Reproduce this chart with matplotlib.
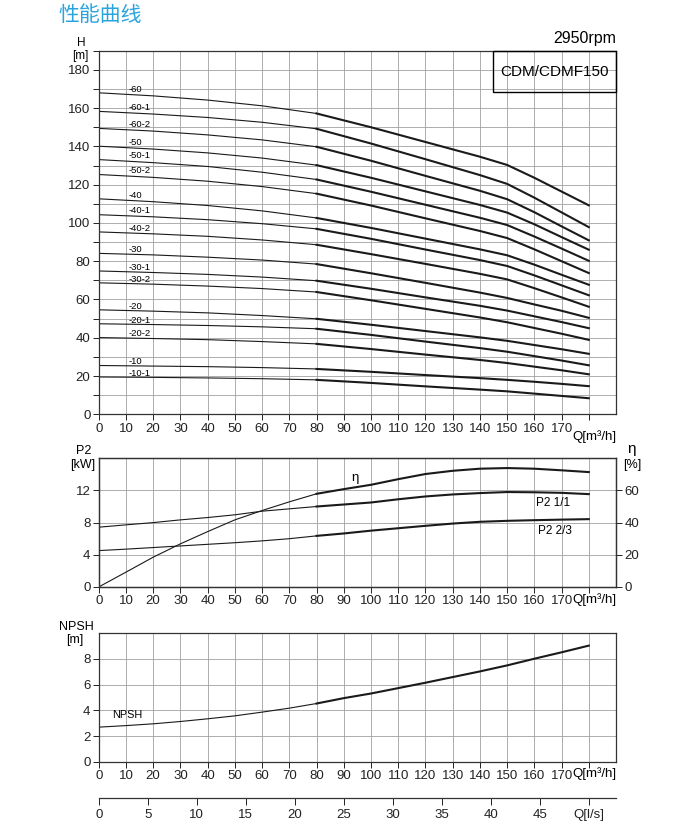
import matplotlib.pyplot as plt
from matplotlib.ticker import MultipleLocator
from matplotlib.patches import Rectangle

plt.rcParams['font.family'] = ['Liberation Sans', 'Noto Sans CJK SC', 'DejaVu Sans']

# ---- data ----
q_head = [0, 20, 40, 60, 80, 100, 120, 140, 150, 160, 170, 180]
stage_labels = ['-60', '-60-1', '-60-2', '-50', '-50-1', '-50-2',
                '-40', '-40-1', '-40-2', '-30', '-30-1', '-30-2',
                '-20', '-20-1', '-20-2', '-10', '-10-1']
heads = [
    [168.0, 166.4, 164.2, 161.2, 157.2, 150.0, 142.3, 134.6, 130.3, 123.6, 116.4, 109.2],
    [158.3, 156.9, 155.1, 152.6, 149.2, 141.5, 133.3, 125.0, 120.4, 113.2, 105.5, 97.8],
    [149.4, 148.0, 146.0, 143.4, 139.8, 132.5, 124.6, 116.8, 112.4, 105.6, 98.2, 90.9],
    [140.1, 138.6, 136.6, 133.9, 130.2, 123.6, 116.5, 109.4, 105.4, 99.3, 92.6, 86.0],
    [133.1, 131.5, 129.5, 126.5, 122.7, 116.3, 109.5, 102.7, 98.9, 92.9, 86.6, 80.2],
    [125.3, 123.8, 121.8, 119.0, 115.3, 109.1, 102.4, 95.8, 92.1, 86.2, 80.0, 73.8],
    [112.6, 111.1, 109.1, 106.3, 102.6, 97.4, 91.8, 86.2, 83.1, 78.2, 72.9, 67.7],
    [104.3, 103.2, 101.7, 99.6, 96.9, 91.7, 86.1, 80.6, 77.5, 72.6, 67.4, 62.2],
    [95.3, 94.3, 93.0, 91.1, 88.6, 83.7, 78.6, 73.4, 70.5, 65.9, 61.1, 56.2],
    [84.1, 83.3, 82.1, 80.6, 78.5, 73.7, 68.7, 63.6, 60.8, 57.4, 54.1, 50.4],
    [74.9, 74.1, 73.1, 71.7, 69.8, 65.6, 61.1, 56.7, 54.2, 51.2, 48.2, 45.0],
    [68.7, 68.0, 67.0, 65.7, 63.9, 59.6, 55.1, 50.6, 48.1, 45.1, 42.1, 38.9],
    [54.6, 53.9, 53.0, 51.6, 49.9, 46.8, 43.5, 40.2, 38.4, 36.2, 34.0, 31.6],
    [47.3, 46.9, 46.4, 45.7, 44.7, 41.5, 38.0, 34.6, 32.7, 30.4, 28.1, 25.6],
    [40.1, 39.6, 39.0, 38.0, 36.8, 34.1, 31.2, 28.4, 26.8, 24.9, 23.0, 20.9],
    [25.5, 25.2, 24.9, 24.4, 23.7, 22.2, 20.5, 18.9, 18.0, 17.0, 15.9, 14.7],
    [19.5, 19.3, 19.0, 18.6, 18.0, 16.4, 14.6, 12.9, 12.0, 10.8, 9.6, 8.4],
]

q_perf = [0, 10, 20, 30, 40, 50, 60, 70, 80, 90, 100, 110, 120, 130, 140, 150, 160, 170, 180]
p2_full = [7.43, 7.72, 8.0, 8.34, 8.63, 8.97, 9.42, 9.71, 10.0, 10.25, 10.5, 10.9,
           11.25, 11.5, 11.67, 11.8, 11.77, 11.7, 11.54]
p2_two_thirds = [4.52, 4.7, 4.9, 5.1, 5.3, 5.5, 5.73, 6.0, 6.35, 6.65, 7.0, 7.3,
                 7.6, 7.88, 8.1, 8.22, 8.3, 8.37, 8.43]
eta = [0, 9.2, 18.5, 26.8, 34.4, 41.7, 47.5, 52.9, 57.9, 60.8, 63.5, 67.0,
       70.2, 72.2, 73.5, 73.9, 73.5, 72.5, 71.4]
npsh = [2.69, 2.81, 2.95, 3.13, 3.34, 3.57, 3.86, 4.17, 4.53, 4.95, 5.31, 5.73,
        6.15, 6.59, 7.03, 7.5, 8.02, 8.52, 9.04]

q_ticks = list(range(0, 180, 10))
ls_ticks = list(range(0, 50, 5))

LINE = '#1a1a1a'
GRID = '#a0a0a0'
SPINE = '#333333'
FS = 9.5


def style_axis(ax, ymax, ystep, grid_step):
    ax.set_xlim(0, 190)
    ax.set_ylim(0, ymax)
    ax.set_xticks(q_ticks + [180])
    ax.set_xticklabels([str(v) for v in q_ticks] + [''])
    ax.yaxis.set_major_locator(MultipleLocator(ystep))
    for v in range(0, 181, 10):
        ax.axvline(v, color=GRID, lw=0.6, zorder=0)
    y = grid_step
    while y < ymax:
        ax.axhline(y, color=GRID, lw=0.6, zorder=0)
        y += grid_step
    for s in ax.spines.values():
        s.set_color(SPINE)
        s.set_linewidth(0.9)
    ax.tick_params(labelsize=FS, colors='#222222', length=4, width=0.7, pad=2)
    ax.text(182, -0.045, 'Q[m³/h]', transform=ax.get_xaxis_transform(),
            ha='center', va='top', fontsize=FS)


def draw_curve(ax, q, vals, split):
    ax.plot(q[:split + 1], vals[:split + 1], color=LINE, lw=0.8)
    ax.plot(q[split:], vals[split:], color=LINE, lw=1.5)


fig = plt.figure(figsize=(6.87, 8.23), dpi=100)

fig.text(58 / 687, 1 - 15 / 823, '性能曲线', color='#2aa4de', fontsize=15,
         family=['Noto Sans CJK SC'], ha='left', va='center')

# ---- head curves ----
ax1 = fig.add_axes([0.1437, 0.4966, 0.753, 0.4418])
style_axis(ax1, 190, 20, 10)
ax1.yaxis.set_minor_locator(MultipleLocator(10))
ax1.tick_params(axis='y', which='minor', length=4, width=0.7, colors='#222222')
for lab, h in zip(stage_labels, heads):
    draw_curve(ax1, q_head, h, 4)
    ax1.text(11, h[0] - 0.4, lab, fontsize=6.8, ha='left', va='bottom')
ax1.text(-0.034, 1.022, 'H', transform=ax1.transAxes, ha='center', va='center', fontsize=8.5)
ax1.text(-0.036, 0.986, '[m]', transform=ax1.transAxes, ha='center', va='center', fontsize=8.5)
fig.text(616 / 687, 1 - 38 / 823, '2950rpm', ha='right', va='center', fontsize=11.5)
box = Rectangle((493.3 / 687, 1 - 92.3 / 823), (616 - 493.3) / 687, 41.6 / 823,
                transform=fig.transFigure, fill=False, ec='black', lw=1)
fig.patches.append(box)
fig.text((493.3 + 616) / 2 / 687, 1 - 71.5 / 823, 'CDM/CDMF150',
         ha='center', va='center', fontsize=11)

# ---- power / efficiency ----
ax2 = fig.add_axes([0.1437, 0.2868, 0.753, 0.1564])
style_axis(ax2, 16, 4, 4)
ax2.set_yticks([0, 4, 8, 12])
draw_curve(ax2, q_perf, p2_full, 8)
draw_curve(ax2, q_perf, p2_two_thirds, 8)
ax2r = ax2.twinx()
ax2r.set_ylim(0, 80)
ax2r.set_yticks([0, 20, 40, 60])
ax2r.tick_params(labelsize=FS, colors='#222222', length=4, width=0.7, pad=2)
for s in ax2r.spines.values():
    s.set_color(SPINE)
    s.set_linewidth(0.9)
draw_curve(ax2r, q_perf, eta, 8)
ax2.text(94, 13.6, 'η', fontsize=9.5, ha='center', va='center')
ax2.text(167, 10.4, 'P2 1/1', fontsize=8.5, ha='center', va='center')
ax2.text(167.5, 7.0, 'P2 2/3', fontsize=8.5, ha='center', va='center')
ax2.text(-0.03, 1.059, 'P2', transform=ax2.transAxes, ha='center', va='center', fontsize=9)
ax2.text(-0.031, 0.946, '[kW]', transform=ax2.transAxes, ha='center', va='center', fontsize=9)
ax2.text(1.03, 1.07, 'η', transform=ax2.transAxes, ha='center', va='center', fontsize=11)
ax2.text(1.031, 0.95, '[%]', transform=ax2.transAxes, ha='center', va='center', fontsize=9)

# ---- NPSH ----
ax3 = fig.add_axes([0.1437, 0.0745, 0.753, 0.156])
style_axis(ax3, 10, 2, 2)
ax3.set_yticks([0, 2, 4, 6, 8])
draw_curve(ax3, q_perf, npsh, 8)
ax3.text(5, 3.25, 'NPSH', fontsize=7.8, ha='left', va='bottom')
ax3.text(-0.044, 1.05, 'NPSH', transform=ax3.transAxes, ha='center', va='center', fontsize=9)
ax3.text(-0.046, 0.948, '[m]', transform=ax3.transAxes, ha='center', va='center', fontsize=9)

# ---- second flow scale in l/s ----
ax4 = fig.add_axes([0.1437, 0.0307, 0.753, 0.0001])
ax4.set_xlim(0, 190 / 3.6)
ax4.set_yticks([])
for side in ('top', 'left', 'right'):
    ax4.spines[side].set_visible(False)
ax4.spines['bottom'].set_color(SPINE)
ax4.spines['bottom'].set_linewidth(0.9)
ax4.set_xticks(ls_ticks + [50])
ax4.set_xticklabels([str(v) for v in ls_ticks] + ['Q[l/s]'])
ax4.tick_params(labelsize=FS, colors='#222222', length=5, width=0.7, pad=3)
ax4.patch.set_visible(False)

fig.savefig('out.png', dpi=100)
